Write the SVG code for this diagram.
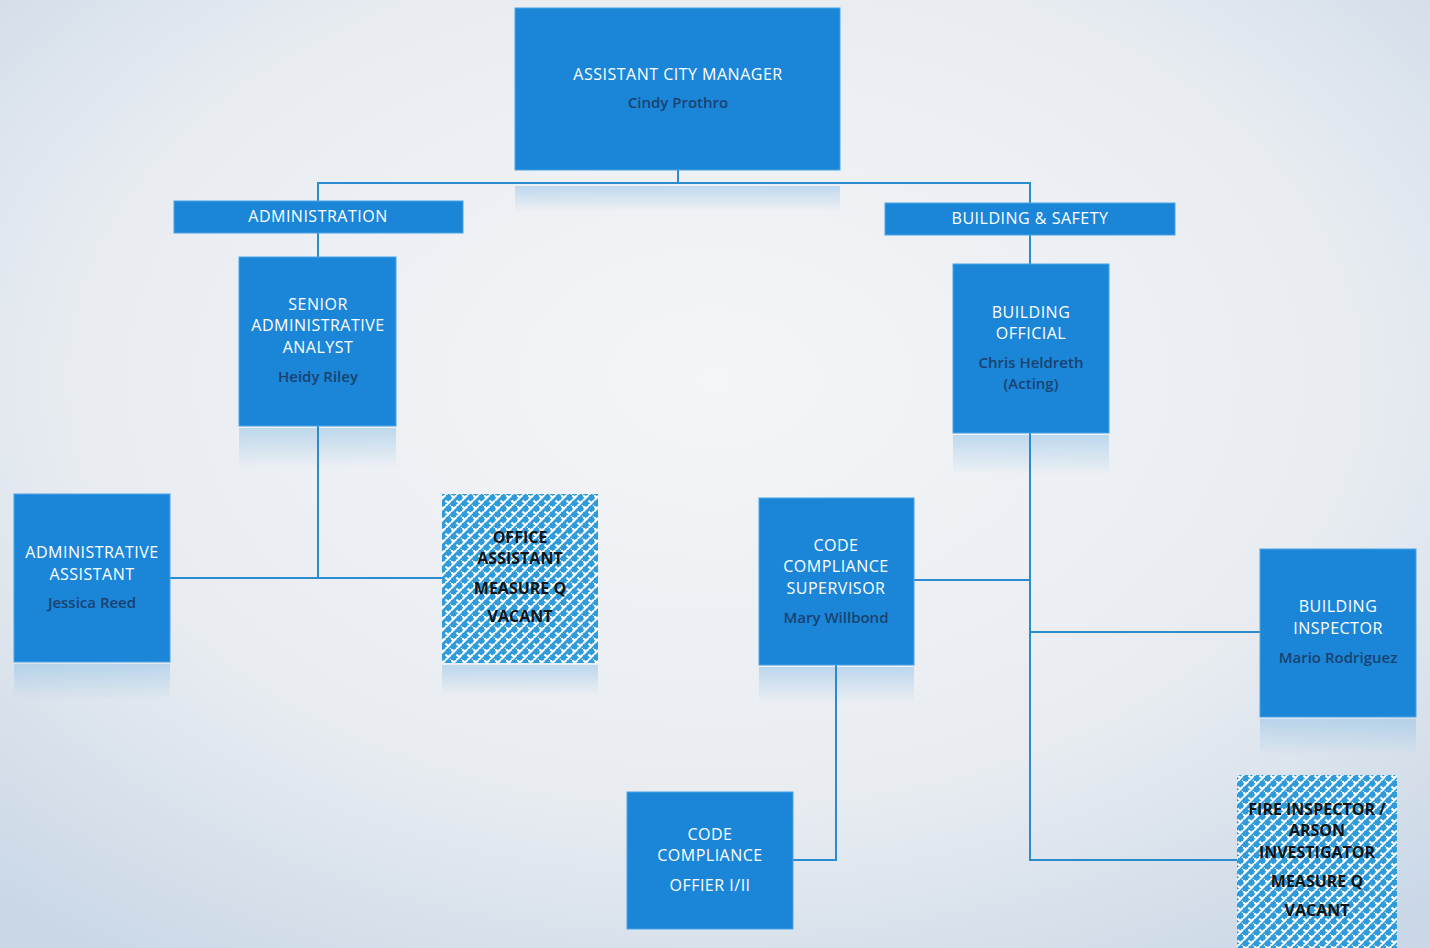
<svg xmlns="http://www.w3.org/2000/svg" width="1430" height="948" viewBox="0 0 1430 948">
  <defs>
    <radialGradient id="bg" cx="0.5" cy="0.4" r="0.75">
      <stop offset="0" stop-color="#f4f5f7"/>
      <stop offset="0.6" stop-color="#e8ecf1"/>
      <stop offset="1" stop-color="#c9d7e6"/>
    </radialGradient>
    <linearGradient id="refl" x1="0" y1="0" x2="0" y2="1">
      <stop offset="0" stop-color="#8fc0e6" stop-opacity="0.5"/>
      <stop offset="1" stop-color="#8fc0e6" stop-opacity="0"/>
    </linearGradient>
    <pattern id="weave" width="11" height="11" patternUnits="userSpaceOnUse">
      <rect width="11" height="11" fill="#2f9bdb"/>
      <path d="M0 5.5 L5.5 0 M5.5 11 L11 5.5 M-1 1 L1 -1 M10 12 L12 10 M5.5 5.5 L8.5 8.5 M0 0 L3 3" stroke="#ffffff" stroke-width="2.2" fill="none"/>
    </pattern>
    <style>
      .box { fill: #1b86d8; stroke: #4aa3e6; stroke-width: 1; }
      .bar { fill: #1b86d8; stroke: #4aa3e6; stroke-width: 1; }
      .hatch { fill: url(#weave); }
      .title { font-family: "Open Sans", "Noto Sans", "Liberation Sans", sans-serif; font-size: 16px; fill: #ffffff; text-anchor: middle; letter-spacing: 0.5px; }
      .name { font-family: "Open Sans", "Noto Sans", "Liberation Sans", sans-serif; font-size: 15px; font-weight: 600; fill: #1a4270; text-anchor: middle; }
      .vac { font-family: "Open Sans", "Noto Sans", "Liberation Sans", sans-serif; font-size: 16px; font-weight: bold; fill: #141414; text-anchor: middle; }
      .link { stroke: #2b8ccd; stroke-width: 2; fill: none; }
      .reflection { fill: url(#refl); }
    </style>
  </defs>

  <rect x="0" y="0" width="1430" height="948" fill="url(#bg)"/>

  <!-- soft reflections under the boxes -->
  <g id="reflections">
    <rect class="reflection" x="515" y="186" width="325" height="26"/>
    <rect class="reflection" x="239" y="428" width="157" height="40"/>
    <rect class="reflection" x="953" y="435" width="156" height="40"/>
    <rect class="reflection" x="14" y="664" width="156" height="36"/>
    <rect class="reflection" x="442" y="665" width="156" height="30"/>
    <rect class="reflection" x="759" y="667" width="155" height="36"/>
    <rect class="reflection" x="1260" y="719" width="156" height="36"/>
  </g>

  <g id="connectors">
    <polyline class="link" points="678,170 678,183"/>
    <polyline class="link" points="318,201 318,183 1030,183 1030,203"/>
    <polyline class="link" points="318,233 318,257"/>
    <polyline class="link" points="318,426 318,578"/>
    <polyline class="link" points="170,578 442,578"/>
    <polyline class="link" points="1030,235 1030,264"/>
    <polyline class="link" points="1030,433 1030,860 1237,860"/>
    <polyline class="link" points="914,580 1030,580"/>
    <polyline class="link" points="1030,632 1260,632"/>
    <polyline class="link" points="836,665 836,860 793,860"/>
  </g>

  <g id="acm">
    <rect class="box" x="515" y="8" width="325" height="162"/>
    <text class="title" x="678" y="80">ASSISTANT CITY MANAGER</text>
    <text class="name" x="678" y="108">Cindy Prothro</text>
  </g>

  <g id="administration">
    <rect class="bar" x="174" y="201" width="289" height="32"/>
    <text class="title" x="318" y="222">ADMINISTRATION</text>
  </g>

  <g id="building-safety">
    <rect class="bar" x="885" y="203" width="290" height="32"/>
    <text class="title" x="1030" y="224">BUILDING &amp; SAFETY</text>
  </g>

  <g id="senior-analyst">
    <rect class="box" x="239" y="257" width="157" height="169"/>
    <text class="title" x="318" y="310">SENIOR</text>
    <text class="title" x="318" y="331">ADMINISTRATIVE</text>
    <text class="title" x="318" y="353">ANALYST</text>
    <text class="name" x="318" y="382">Heidy Riley</text>
  </g>

  <g id="building-official">
    <rect class="box" x="953" y="264" width="156" height="169"/>
    <text class="title" x="1031" y="318">BUILDING</text>
    <text class="title" x="1031" y="339">OFFICIAL</text>
    <text class="name" x="1031" y="368">Chris Heldreth</text>
    <text class="name" x="1031" y="389">(Acting)</text>
  </g>

  <g id="admin-assistant">
    <rect class="box" x="14" y="494" width="156" height="168"/>
    <text class="title" x="92" y="558">ADMINISTRATIVE</text>
    <text class="title" x="92" y="580">ASSISTANT</text>
    <text class="name" x="92" y="608">Jessica Reed</text>
  </g>

  <g id="office-assistant">
    <rect class="hatch" x="442" y="494" width="156" height="169"/>
    <text class="vac" x="520" y="543">OFFICE</text>
    <text class="vac" x="520" y="564">ASSISTANT</text>
    <text class="vac" x="520" y="594">MEASURE Q</text>
    <text class="vac" x="520" y="622">VACANT</text>
  </g>

  <g id="code-supervisor">
    <rect class="box" x="759" y="498" width="155" height="167"/>
    <text class="title" x="836" y="551">CODE</text>
    <text class="title" x="836" y="572">COMPLIANCE</text>
    <text class="title" x="836" y="594">SUPERVISOR</text>
    <text class="name" x="836" y="623">Mary Willbond</text>
  </g>

  <g id="building-inspector">
    <rect class="box" x="1260" y="549" width="156" height="168"/>
    <text class="title" x="1338" y="612">BUILDING</text>
    <text class="title" x="1338" y="634">INSPECTOR</text>
    <text class="name" x="1338" y="663">Mario Rodriguez</text>
  </g>

  <g id="code-officer">
    <rect class="box" x="627" y="792" width="166" height="137"/>
    <text class="title" x="710" y="840">CODE</text>
    <text class="title" x="710" y="861">COMPLIANCE</text>
    <text class="title" x="710" y="891">OFFIER I/II</text>
  </g>

  <g id="fire-inspector">
    <rect class="hatch" x="1237" y="775" width="160" height="173"/>
    <text class="vac" x="1317" y="815">FIRE INSPECTOR /</text>
    <text class="vac" x="1317" y="836">ARSON</text>
    <text class="vac" x="1317" y="858">INVESTIGATOR</text>
    <text class="vac" x="1317" y="887">MEASURE Q</text>
    <text class="vac" x="1317" y="916">VACANT</text>
  </g>
</svg>
